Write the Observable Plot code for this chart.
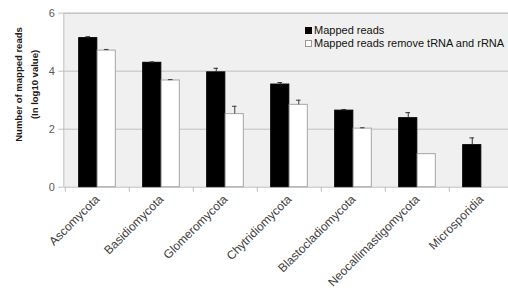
<!DOCTYPE html>
<html><head><meta charset="utf-8">
<script src="https://cdn.jsdelivr.net/npm/d3@7"></script>
<script src="https://cdn.jsdelivr.net/npm/@observablehq/plot@0.6"></script>
<style>
html,body{margin:0;padding:0;background:#fff;overflow:hidden;}
#wrap{position:relative;width:508px;height:292px;overflow:hidden;}
.legend{position:absolute;left:305px;top:24px;font:11px "Liberation Sans",Arial,sans-serif;color:#111;line-height:13px;}
.legend .row{display:flex;align-items:center;white-space:nowrap}
.sw{width:7px;height:7px;border:1px solid #000;margin-right:2px;box-sizing:border-box}
</style></head>
<body><div id="wrap"></div>
<script>
const categories = ["Ascomycota","Basidiomycota","Glomeromycota","Chytridiomycota","Blastocladiomycota","Neocallimastigomycota","Microsporidia"];
const mapped     = [5.14, 4.29, 3.96, 3.54, 2.64, 2.38, 1.45];
const mappedErr  = [0.05, 0.03, 0.14, 0.07, 0.04, 0.19, 0.25];
const removed    = [4.71, 3.68, 2.52, 2.84, 2.02, 1.14, null];
const removedErr = [0.04, 0.03, 0.27, 0.16, 0.03, 0, null];
const seriesNames = ["Mapped reads", "Mapped reads remove tRNA and rRNA"];
const seriesFill = ["#000000", "#ffffff"];
const yTicks = [0, 2, 4, 6];
const yTitle = "Number of mapped reads\n(In log10 value)";

const rowsA = categories.map((c, i) => ({cat: c, v: mapped[i], e: mappedErr[i]}));
const rowsB = categories.map((c, i) => ({cat: c, v: removed[i], e: removedErr[i]})).filter(d => d.v != null);

const half = 32.2, bw = 18.5;
const gray = "#bfbfbf";

const chart = Plot.plot({
  width: 508, height: 292,
  marginTop: 12.7, marginBottom: 105.3, marginLeft: 63.3, marginRight: -6.2,
  style: {fontFamily: "'Liberation Sans', Arial, sans-serif", background: "transparent"},
  x: {type: "band", domain: categories, padding: 0, label: null},
  y: {domain: [0, 6], label: null},
  marks: [
    Plot.frame({fill: "#f0f0f0", stroke: gray}),
    Plot.gridY({ticks: [2, 4, 6], stroke: gray, strokeOpacity: 1}),
    Plot.barY(rowsA, {x: "cat", y: "v", fill: seriesFill[0], stroke: "#000", insetLeft: half - bw, insetRight: half}),
    Plot.barY(rowsB, {x: "cat", y: "v", fill: seriesFill[1], stroke: "#a6a6a6", insetLeft: half, insetRight: half - bw}),
    Plot.ruleX(rowsA, {x: "cat", y1: "v", y2: d => d.v + d.e, dx: -bw / 2, stroke: "#333"}),
    Plot.tickY(rowsA, {x: "cat", y: d => d.v + d.e, dx: -bw / 2, insetLeft: half - 2.5, insetRight: half - 2.5, stroke: "#333"}),
    Plot.ruleX(rowsB.filter(d => d.e > 0), {x: "cat", y1: "v", y2: d => d.v + d.e, dx: bw / 2, stroke: "#404040"}),
    Plot.tickY(rowsB.filter(d => d.e > 0), {x: "cat", y: d => d.v + d.e, dx: bw / 2, insetLeft: half - 2.5, insetRight: half - 2.5, stroke: "#404040"}),
    Plot.axisY({ticks: yTicks, tickFormat: d3.format("d"), tickSize: 5, tickPadding: 4, stroke: gray, color: "#595959", fontSize: 11, label: null}),
    Plot.axisX({tickSize: 5, tickFormat: () => "", dx: -half, stroke: gray, label: null}),
    Plot.axisX({tickSize: 0, tickPadding: 10, tickRotate: -45, fontSize: 12, color: "#404040", label: null}),
    Plot.text([yTitle], {text: d => d, frameAnchor: "left", textAnchor: "middle", lineAnchor: "middle", rotate: -90, dx: -39, dy: -15.7, fontWeight: "bold", fontSize: 9.5, lineHeight: 1.65, fill: "#1a1a1a"})
  ]
});
const wrap = document.getElementById("wrap");
wrap.appendChild(chart);
const leg = document.createElement("div");
leg.className = "legend";
seriesNames.forEach((n, i) => {
  const r = document.createElement("div"); r.className = "row";
  const s = document.createElement("span"); s.className = "sw";
  s.style.background = seriesFill[i];
  s.style.borderColor = i === 0 ? "#000" : "#999";
  const t = document.createElement("span"); t.textContent = n;
  r.appendChild(s); r.appendChild(t); leg.appendChild(r);
});
wrap.appendChild(leg);
</script>
</body></html>
